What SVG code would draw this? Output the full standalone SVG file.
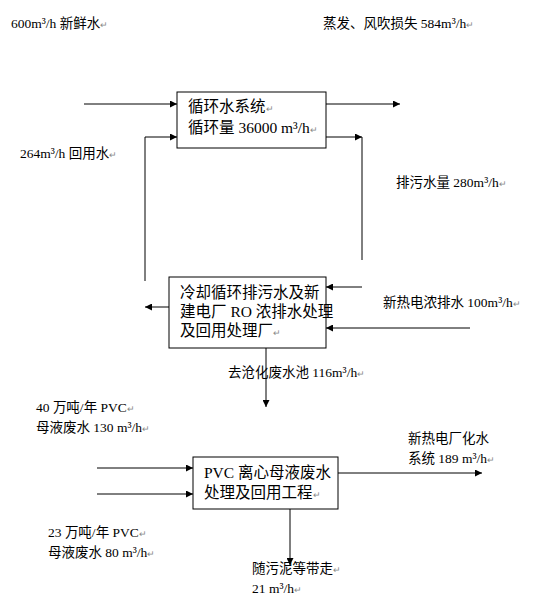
<svg xmlns="http://www.w3.org/2000/svg" width="535" height="615" viewBox="0 0 535 615">
<style>
text{font-family:"Liberation Serif","Noto Sans CJK SC",serif;fill:#000}
.lbl{font-size:13.5px}
.box-t{font-size:15.5px}
.pm{fill:#888;font-size:9px}
.box{fill:#fff;stroke:#000;stroke-width:1}
.c{fill:none;stroke:#000;stroke-width:1}
</style>
<defs>
<marker id="ah" viewBox="0 0 10 10" refX="10" refY="5" markerWidth="8" markerHeight="7" markerUnits="userSpaceOnUse" orient="auto">
<path d="M0,0 L10,5 L0,10 z" fill="#000"/>
</marker>
</defs>
<rect width="535" height="615" fill="#fff"/>

<g id="connectors">
<path class="c" d="M84,104 H177" marker-end="url(#ah)"/>
<path class="c" d="M145,281 V137 H177" marker-end="url(#ah)"/>
<path class="c" d="M326,104 H400" marker-end="url(#ah)"/>
<path class="c" d="M326,137 H362" marker-end="url(#ah)"/>
<path class="c" d="M362,137 V260"/>
<path class="c" d="M362,287 H326" marker-end="url(#ah)"/>
<path class="c" d="M470,328 H326" marker-end="url(#ah)"/>
<path class="c" d="M169,307 H145" marker-end="url(#ah)"/>
<path class="c" d="M266,348 V407" marker-end="url(#ah)"/>
<path class="c" d="M97,468 H193" marker-end="url(#ah)"/>
<path class="c" d="M97,494 H193" marker-end="url(#ah)"/>
<path class="c" d="M338,473 H482" marker-end="url(#ah)"/>
<path class="c" d="M290,509 V565" marker-end="url(#ah)"/>
</g>

<g id="node-circ">
<rect class="box" x="177" y="92" width="149" height="56"/>
<text class="box-t" x="188" y="112">循环水系统<tspan class="pm">↵</tspan></text>
<text class="box-t" x="188" y="133">循环量 36000 m³/h<tspan class="pm">↵</tspan></text>
</g>

<g id="node-treat">
<rect class="box" x="169" y="277" width="157" height="71"/>
<text class="box-t" x="180" y="298" font-size="14.6">冷却循环排污水及新</text>
<text class="box-t" x="180" y="317" font-size="14.6">建电厂 RO 浓排水处理</text>
<text class="box-t" x="180" y="336" font-size="14.6">及回用处理厂<tspan class="pm">↵</tspan></text>
</g>

<g id="node-pvc">
<rect class="box" x="193" y="457" width="145" height="52"/>
<text class="box-t" x="204" y="478">PVC 离心母液废水</text>
<text class="box-t" x="204" y="498">处理及回用工程<tspan class="pm">↵</tspan></text>
</g>

<g id="labels">
<text class="lbl" x="11" y="28">600m³/h 新鲜水<tspan class="pm">↵</tspan></text>
<text class="lbl" x="323" y="28">蒸发、风吹损失 584m³/h<tspan class="pm">↵</tspan></text>
<text class="lbl" x="20" y="158">264m³/h 回用水<tspan class="pm">↵</tspan></text>
<text class="lbl" x="396" y="187">排污水量 280m³/h<tspan class="pm">↵</tspan></text>
<text class="lbl" x="383" y="307">新热电浓排水 100m³/h<tspan class="pm">↵</tspan></text>
<text class="lbl" x="228" y="377">去沧化废水池 116m³/h<tspan class="pm">↵</tspan></text>
<text class="lbl" x="36" y="412">40 万吨/年 PVC<tspan class="pm">↵</tspan></text>
<text class="lbl" x="36" y="432">母液废水 130 m³/h<tspan class="pm">↵</tspan></text>
<text class="lbl" x="408" y="443">新热电厂化水</text>
<text class="lbl" x="408" y="463">系统 189 m³/h<tspan class="pm">↵</tspan></text>
<text class="lbl" x="48" y="537">23 万吨/年 PVC<tspan class="pm">↵</tspan></text>
<text class="lbl" x="48" y="557">母液废水 80 m³/h<tspan class="pm">↵</tspan></text>
<text class="lbl" x="252" y="573">随污泥等带走<tspan class="pm">↵</tspan></text>
<text class="lbl" x="252" y="593">21 m³/h<tspan class="pm">↵</tspan></text>
</g>
</svg>
